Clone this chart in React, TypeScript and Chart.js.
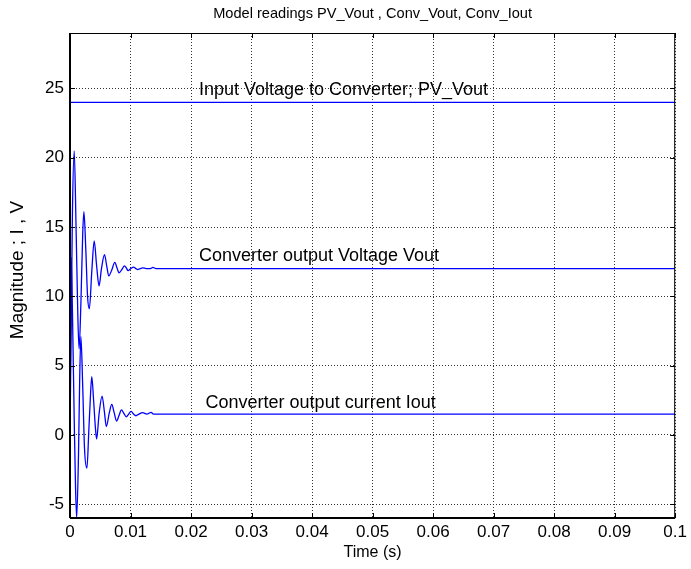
import React, { useEffect, useRef } from "react";
import { Chart, registerables } from "chart.js";

Chart.register(...registerables);

const titleText = "Model readings PV_Vout , Conv_Vout, Conv_Iout";
const xLabel = "Time (s)";
const yLabel = "Magnitude ; I , V";

const xTicks = [0, 0.01, 0.02, 0.03, 0.04, 0.05, 0.06, 0.07, 0.08, 0.09, 0.1];
const yTicks = [-5, 0, 5, 10, 15, 20, 25];

const timePV = [0, 0.1];
const pvVout = [24, 24];

const timeV = [0, 0.0002, 0.0004, 0.0007, 0.001, 0.0013, 0.0015, 0.0018, 0.0021, 0.0023, 0.0026, 0.0029, 0.0032, 0.0036, 0.004, 0.0044, 0.0048, 0.0052, 0.0057, 0.0061, 0.0064, 0.0069, 0.0074, 0.0078, 0.0081, 0.0086, 0.009, 0.0093, 0.0096, 0.01, 0.0105, 0.0109, 0.0112, 0.0116, 0.012, 0.0126, 0.0133, 0.0137, 0.0142, 0.1];
const convVout = [0, 8, 16, 20.5, 15, 8.5, 6.2, 9.5, 14.5, 16.1, 13.5, 10, 9.1, 11.8, 14.0, 12.2, 10.75, 12, 13.0, 12.1, 11.47, 11.9, 12.44, 12.0, 11.7, 11.95, 12.2, 12.05, 11.85, 11.98, 12.1, 12.0, 11.93, 12.0, 12.05, 12.0, 12.0, 12.08, 12.0, 12.0];

const timeI = [0, 0.0001, 0.0002, 0.0004, 0.0007, 0.0009, 0.0011, 0.0014, 0.0016, 0.0018, 0.0021, 0.0024, 0.0028, 0.0031, 0.0034, 0.0036, 0.0039, 0.0042, 0.0044, 0.0048, 0.0053, 0.0057, 0.006, 0.0065, 0.0069, 0.0073, 0.0077, 0.0081, 0.0085, 0.0089, 0.0093, 0.0097, 0.0101, 0.0105, 0.0109, 0.0114, 0.012, 0.0127, 0.0134, 0.0138, 0.1];
const convIout = [0, 7, 12.8, 9, 1, -3.5, -6.0, -1.5, 4, 7.1, 3.5, -1, -2.4, 0.2, 3, 4.2, 2.5, 0.5, -0.3, 1.5, 2.8, 1.6, 0.6, 1.6, 2.2, 1.6, 1.0, 1.4, 1.8, 1.55, 1.3, 1.5, 1.7, 1.5, 1.38, 1.5, 1.6, 1.5, 1.62, 1.5, 1.5];

const annotations = [
  { text: "Input Voltage to Converter; PV_Vout", x: 0.0213, y: 24.55 },
  { text: "Converter output Voltage Vout", x: 0.0213, y: 12.55 },
  { text: "Converter output current Iout", x: 0.0224, y: 1.95 },
];

const FONT = "'Liberation Sans', Arial, Helvetica, sans-serif";
const BLUE = "#0000ff";

const toPts = (xs: number[], ys: number[]) => xs.map((x, i) => ({ x, y: ys[i] }));

export default function App() {
  const ref = useRef<HTMLCanvasElement | null>(null);

  useEffect(() => {
    document.body.style.margin = "0";
    const canvas = ref.current;
    if (!canvas) return;

    const overlay = {
      id: "overlay",
      afterDatasetsDraw(chart: any) {
        const { ctx, chartArea: a, scales } = chart;
        const xs = scales.x;
        const ys = scales.y;
        ctx.save();
        // frame
        ctx.strokeStyle = "#000";
        ctx.lineWidth = 1;
        ctx.strokeRect(a.left + 0.5, a.top + 0.5, a.right - a.left - 1, a.bottom - a.top - 1);
        ctx.lineWidth = 2;
        ctx.beginPath();
        ctx.moveTo(a.left, a.bottom);
        ctx.lineTo(a.right, a.bottom);
        ctx.moveTo(a.left, a.top);
        ctx.lineTo(a.left, a.bottom);
        ctx.stroke();
        // inward ticks
        ctx.lineWidth = 1;
        ctx.beginPath();
        xTicks.forEach((v) => {
          const px = Math.round(xs.getPixelForValue(v)) + 0.5;
          ctx.moveTo(px, a.bottom);
          ctx.lineTo(px, a.bottom - 5);
          ctx.moveTo(px, a.top);
          ctx.lineTo(px, a.top + 5);
        });
        yTicks.forEach((v) => {
          const py = Math.round(ys.getPixelForValue(v)) + 0.5;
          ctx.moveTo(a.left, py);
          ctx.lineTo(a.left + 5, py);
          ctx.moveTo(a.right, py);
          ctx.lineTo(a.right - 5, py);
        });
        ctx.stroke();
        // annotations
        ctx.fillStyle = "#000";
        ctx.font = `18px ${FONT}`;
        ctx.textAlign = "left";
        ctx.textBaseline = "alphabetic";
        annotations.forEach((an) => {
          ctx.fillText(an.text, xs.getPixelForValue(an.x), ys.getPixelForValue(an.y));
        });
        // title
        const cx = (a.left + a.right) / 2;
        ctx.font = `14.6px ${FONT}`;
        ctx.textAlign = "center";
        ctx.fillText(titleText, cx, 18);
        // x label
        ctx.font = `16px ${FONT}`;
        ctx.fillText(xLabel, cx, 557);
        // y label
        ctx.translate(23, 270);
        ctx.rotate(-Math.PI / 2);
        ctx.font = `19px ${FONT}`;
        ctx.fillText(yLabel, 0, 0);
        ctx.restore();
      },
    };

    const chart = new Chart(canvas, {
      type: "line",
      data: {
        datasets: [
          { label: "PV_Vout", data: toPts(timePV, pvVout), borderColor: BLUE, borderWidth: 1.3, pointRadius: 0 },
          { label: "Conv_Vout", data: toPts(timeV, convVout), borderColor: BLUE, borderWidth: 1.3, pointRadius: 0, cubicInterpolationMode: "monotone" },
          { label: "Conv_Iout", data: toPts(timeI, convIout), borderColor: BLUE, borderWidth: 1.3, pointRadius: 0, cubicInterpolationMode: "monotone" },
        ],
      },
      plugins: [overlay],
      options: {
        animation: false,
        responsive: false,
        maintainAspectRatio: false,
        layout: { padding: { top: 33, right: 10, left: 0, bottom: 0 } },
        plugins: { legend: { display: false }, tooltip: { enabled: false }, title: { display: false } },
        scales: {
          x: {
            type: "linear",
            min: 0,
            max: 0.1,
            afterBuildTicks: (s: any) => { s.ticks = xTicks.map((v) => ({ value: v })); },
            afterFit: (s: any) => { s.height = 51; },
            grid: { color: "#333", drawTicks: false, lineWidth: 1 },
            border: { display: false, dash: [1, 2] },
            ticks: { color: "#000", font: { family: FONT, size: 17 }, padding: 4, maxRotation: 0, autoSkip: false, callback: (v: any) => String(v) },
          },
          y: {
            type: "linear",
            min: -6,
            max: 29,
            afterBuildTicks: (s: any) => { s.ticks = yTicks.map((v) => ({ value: v })); },
            afterFit: (s: any) => { s.width = 70; },
            grid: { color: "#333", drawTicks: false, lineWidth: 1 },
            border: { display: false, dash: [1, 2] },
            ticks: { color: "#000", font: { family: FONT, size: 17 }, padding: 6, callback: (v: any) => String(v) },
          },
        },
      } as any,
    });
    return () => chart.destroy();
  }, []);

  return (
    <div style={{ width: 691, height: 569 }}>
      <canvas ref={ref} width={691} height={569} style={{ display: "block" }} />
    </div>
  );
}
